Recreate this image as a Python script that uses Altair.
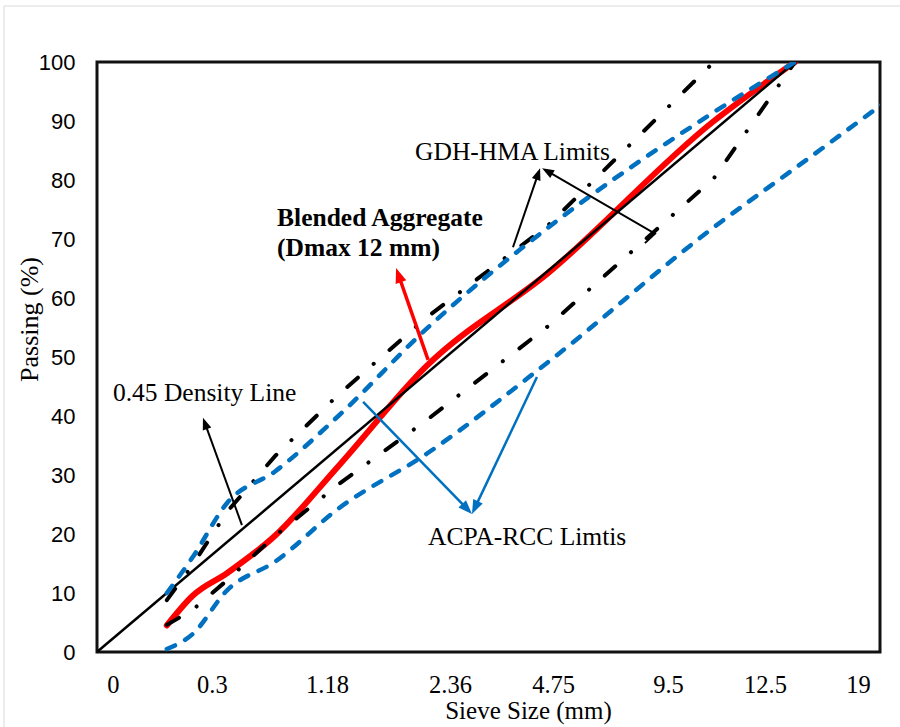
import math
import altair as alt
import pandas as pd

# ---------------- data (sieve size in mm, percent passing) ----------------
SIEVES = [0.075, 0.15, 0.3, 0.6, 1.18, 2.36, 4.75, 9.5, 12.5]
BLENDED = [4.5, 9.5, 13.4, 19.7, 31.5, 48.5, 64.3, 90.0, 100.0]

GDH_UPPER_SIEVES = [0.075, 0.15, 0.3, 0.6, 1.18, 2.36, 4.75, 9.5]
GDH_UPPER = [8.8, 14.7, 23.8, 33.2, 43.6, 56.7, 72.4, 100.0]
GDH_LOWER = [4.6, 7.1, 12.2, 19.7, 28.4, 39.3, 55.3, 80.3, 100.0]

ACPA_UPPER = [10.0, 16.0, 25.3, 30.6, 40.0, 54.8, 72.0, 91.5, 100.0]
ACPA_LOWER_SIEVES = [0.075, 0.15, 0.3, 0.6, 1.18, 2.36, 4.75, 9.5, 12.5, 19.0]
ACPA_LOWER = [0.5, 3.0, 10.5, 15.3, 24.3, 33.6, 49.2, 72.0, 82.0, 100.0]

DENSITY_SIEVES = [0.0, 12.5]
DENSITY = [0.0, 100.0]

# x-axis tick labels and their positions on the 0.45-power axis
X_TICK_LABELS = ["0", "0.3", "1.18", "2.36", "4.75", "9.5", "12.5", "19"]
X_TICK_POS = [0.071, 0.513, 1.027, 1.576, 2.036, 2.549, 2.982, 3.397]
Y_TICKS = list(range(0, 101, 10))

# annotations (x on the 0.45-power axis, y in % passing)
TEXT_NORMAL = ["GDH-HMA Limits", "0.45 Density Line", "ACPA-RCC Limtis"]
TEXT_NORMAL_X = [1.42, 0.071, 1.478]
TEXT_NORMAL_Y = [83.4, 42.5, 18.1]
TEXT_BOLD = ["Blended Aggregate", "(Dmax 12 mm)"]
TEXT_BOLD_X = [0.804, 0.804]
TEXT_BOLD_Y = [72.2, 67.1]

ARROWS = [
    {"color": "#000000", "w": 2.0, "head": 144, "pts": [(1.857, 68.6), (1.978, 82.0)]},
    {"color": "#000000", "w": 2.0, "head": 144, "pts": [(2.446, 69.3), (2.491, 70.9), (1.987, 82.0)]},
    {"color": "#FF0000", "w": 3.5, "head": 225, "pts": [(1.478, 49.5), (1.335, 65.1)]},
    {"color": "#000000", "w": 2.0, "head": 144, "pts": [(0.647, 21.5), (0.473, 39.7)]},
    {"color": "#0070C0", "w": 2.5, "head": 196, "pts": [(1.188, 42.4), (1.674, 23.4)]},
    {"color": "#0070C0", "w": 2.5, "head": 196, "pts": [(1.964, 46.6), (1.674, 23.4)]},
]

# ---------------- layout ----------------
W, H = 783, 590
XMAX = 3.4955
PX_X = W / XMAX
PX_Y = H / 100.0

SERIF = "Liberation Serif"
SANS = "Liberation Sans"

# label expression mapping tick positions to their texts
label_expr = "'" + X_TICK_LABELS[-1] + "'"
for i in range(len(X_TICK_POS) - 2, -1, -1):
    mid = (X_TICK_POS[i] + X_TICK_POS[i + 1]) / 2
    label_expr = f"datum.value < {mid:.4f} ? '{X_TICK_LABELS[i]}' : ({label_expr})"


def x_enc():
    return alt.X(
        "pos:Q",
        scale=alt.Scale(domain=[0, XMAX], nice=False, zero=False),
        axis=alt.Axis(
            values=X_TICK_POS, labelExpr=label_expr, title="Sieve Size (mm)",
            ticks=False, tickSize=0, domain=False, grid=False,
            labelFont=SERIF, labelFontSize=24.5, labelColor="black", labelPadding=21,
            labelFlush=False, labelOverlap=False,
            titleFont=SERIF, titleFontSize=25, titleFontWeight="normal", titleColor="black",
            titleX=431, titleY=66, titleAlign="center", titleBaseline="alphabetic",
        ),
    )


def y_enc():
    return alt.Y(
        "pct:Q",
        scale=alt.Scale(domain=[0, 100], nice=False),
        axis=alt.Axis(
            values=Y_TICKS, title="Passing (%)",
            ticks=False, tickSize=0, domain=False, grid=False,
            labelFont=SANS, labelFontSize=22, labelColor="black", labelPadding=22,
            labelFlush=False, labelOverlap=False,
            titleFont=SERIF, titleFontSize=26, titleFontWeight="normal", titleColor="black",
            titleAngle=270, titleX=-60, titleY=257, titleAlign="center", titleBaseline="alphabetic",
        ),
    )


def series(sizes, vals, **kw):
    df = pd.DataFrame({"size": sizes, "pct": vals})
    return (
        alt.Chart(df)
        .transform_calculate(pos="pow(datum.size, 0.45)")
        .mark_line(clip=True, **kw)
        .encode(x=x_enc(), y=y_enc(), order="size:Q")
    )


blend = series(SIEVES, BLENDED, color="#FF0000", strokeWidth=6, strokeCap="round",
               interpolate="monotone")
density = series(DENSITY_SIEVES, DENSITY, color="#000000", strokeWidth=2.5)
dashdot = dict(color="#000000", strokeWidth=4, strokeCap="round", strokeDash=[14, 21, 0.1, 21])
gdh_up = series(GDH_UPPER_SIEVES, GDH_UPPER, **dashdot)
gdh_lo = series(SIEVES, GDH_LOWER, **dashdot)
dashed = dict(color="#0070C0", strokeWidth=4.5, strokeCap="round", strokeDash=[9, 11.5],
              interpolate="monotone")
acpa_up = series(SIEVES, ACPA_UPPER, **dashed)
acpa_lo = series(ACPA_LOWER_SIEVES, ACPA_LOWER, **dashed)

# arrows
line_rows, head_rows = [], []
for k, a in enumerate(ARROWS):
    pts = a["pts"]
    (x0, y0), (x1, y1) = pts[-2], pts[-1]
    dx = (x1 - x0) * PX_X
    dy = (y1 - y0) * PX_Y
    L = math.hypot(dx, dy)
    r = math.sqrt(a["head"]) / 2
    cx = x1 - (dx / L) * r / PX_X
    cy = y1 - (dy / L) * r / PX_Y
    ang = math.degrees(math.atan2(dx, dy)) % 360
    shaft = pts[:-1] + [(cx, cy)]
    for j, (px, py) in enumerate(shaft):
        line_rows.append({"id": k, "seq": j, "pos": px, "pct": py, "c": a["color"], "w": a["w"]})
    head_rows.append({"pos": cx, "pct": cy, "c": a["color"], "s": a["head"], "ang": ang})

arrow_lines = alt.Chart(pd.DataFrame(line_rows)).mark_line(strokeCap="butt").encode(
    x=x_enc(), y=y_enc(), detail="id:N", order="seq:Q",
    color=alt.Color("c:N", scale=None),
    strokeWidth=alt.StrokeWidth("w:Q", scale=None),
)
arrow_heads = alt.Chart(pd.DataFrame(head_rows)).mark_point(
    shape="M0,-1L0.75,1L-0.75,1Z", filled=True, opacity=1, strokeWidth=0
).encode(
    x=x_enc(), y=y_enc(),
    color=alt.Color("c:N", scale=None),
    size=alt.Size("s:Q", scale=None),
    angle=alt.Angle("ang:Q", scale=None),
)

texts = alt.Chart(pd.DataFrame({"t": TEXT_NORMAL, "pos": TEXT_NORMAL_X, "pct": TEXT_NORMAL_Y})).mark_text(
    font=SERIF, fontSize=25.5, align="left", baseline="alphabetic", color="black"
).encode(x=x_enc(), y=y_enc(), text="t:N")
texts_bold = alt.Chart(pd.DataFrame({"t": TEXT_BOLD, "pos": TEXT_BOLD_X, "pct": TEXT_BOLD_Y})).mark_text(
    font=SERIF, fontSize=25.5, fontWeight="bold", align="left", baseline="alphabetic", color="black"
).encode(x=x_enc(), y=y_enc(), text="t:N")

# light outer frame of the figure
outer = alt.Chart(pd.DataFrame({"a": [0]})).mark_rect(
    fillOpacity=0, stroke="#d9d9d9", strokeWidth=1
).encode(x=alt.value(-93), x2=alt.value(810), y=alt.value(-56), y2=alt.value(690))

chart = (
    alt.layer(outer, blend, density, gdh_up, gdh_lo, acpa_up, acpa_lo,
              arrow_lines, arrow_heads, texts, texts_bold)
    .properties(
        width=W, height=H,
        autosize=alt.AutoSizeParams(type="none"),
        padding={"left": 97, "top": 62, "right": 20, "bottom": 75},
        background="white",
    )
    .configure_view(stroke="#111111", strokeWidth=3)
)

chart.save("out.html", embed_options={"renderer": "svg", "actions": False})
